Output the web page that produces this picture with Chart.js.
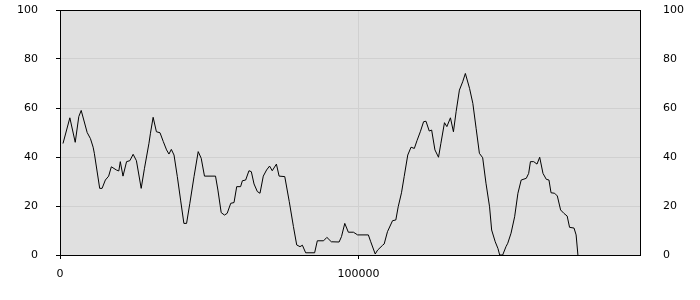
<!DOCTYPE html>
<html>
<head>
<meta charset="utf-8">
<script src="https://cdn.jsdelivr.net/npm/chart.js@4/dist/chart.umd.min.js"></script>
<style>
  html, body { margin: 0; padding: 0; background: #fff; }
</style>
</head>
<body>
<canvas id="lineChart" width="700" height="300"></canvas>
<script>
// sample positions along the x axis
const xs = [
  1000, 3300, 5100, 6300, 7100, 9100, 10200, 11100, 11500, 13300,
  14100, 15200, 16300, 17200, 18900, 19700, 20200, 21100, 22300, 23400,
  24500, 25600, 27200, 28300, 29800, 30300, 31200, 32300, 33500, 34600,
  35700, 36500, 37300, 38200, 39300, 40400, 41500, 42400, 43500, 44900,
  46300, 47300, 48400, 52100, 52900, 54000, 55100, 56000, 57200, 58300,
  59200, 60500, 61100, 62200, 63300, 64100, 65000, 66100, 67000, 68100,
  69200, 70200, 71100, 72500, 73400, 75300, 76800, 78200, 79300, 80400,
  81200, 82300, 85300, 86200, 88300, 89400, 90900, 93500, 94300, 95400,
  96600, 98300, 99700, 103300, 104100, 105600, 106400, 108100, 108600, 109700,
  111400, 112500, 113300, 114400, 115300, 116500, 117600, 118700, 119600, 120700,
  121800, 122600, 123700, 124500, 125600, 126800, 127600, 128800, 129600, 130800,
  131800, 132700, 133800, 134900, 135800, 137200, 138300, 139400, 140500, 141600,
  142700, 143900, 144600, 145800, 146700, 147300, 148300, 149400, 150000, 151100,
  152300, 153400, 154500, 156200, 157000, 157600, 158700, 159800, 160700, 161800,
  162900, 163800, 164500, 165700, 166600, 167700, 168800, 169900, 170700, 172200,
  172900, 173500
];

const ys = [
  45.5, 56, 46, 56.5, 59, 50, 47.5, 44, 41.5, 27.2,
  27.2, 30.6, 32.2, 36, 34.7, 34.3, 38.1, 32.2, 38.1, 38.5,
  41.1, 38.5, 27.2, 35.4, 45.6, 49.7, 56.2, 50.3, 49.9, 46.3,
  42.9, 41.2, 43.1, 40.8, 32, 22.4, 12.9, 12.9, 21.1, 32,
  42.2, 39.5, 32.2, 32.2, 26.5, 17.3, 16.3, 17, 21.1, 21.4,
  27.9, 27.9, 30.3, 30.6, 34.4, 34, 29, 25.9, 25.2, 32.2,
  34.7, 36.3, 34.4, 37.1, 32.2, 32, 21.8, 11.6, 4.1, 3.4,
  4, 0.9, 0.9, 5.8, 5.8, 7.2, 5.4, 5.3, 7.5, 12.9,
  9.3, 9.3, 8.2, 8.2, 5.4, 0.4, 2, 4, 4.5, 9.5,
  14, 14.3, 19.7, 25.4, 32, 40.8, 44, 43.5, 46.7, 50.3,
  54.4, 54.6, 50.6, 51, 42.9, 39.9, 45.6, 54, 52.4, 56,
  50.3, 58.5, 67.3, 70.7, 74.1, 68, 61.9, 51.7, 41.5, 39.7,
  29.3, 19.7, 10.2, 5.4, 2.7, 0, 0, 3.4, 4.8, 8.9,
  15.6, 25.2, 30.6, 31.3, 33.3, 38.1, 38.1, 37.1, 39.9, 33.3,
  30.9, 30.6, 25.4, 25.2, 24.1, 18.4, 17, 15.9, 11.3, 11,
  8.2, 0
];

const xTickValues = [0, 100000];
const yTickValues = [0, 20, 40, 60, 80, 100];
const xMax = 194300;

const labelFont = { family: "'DejaVu Sans', Verdana, sans-serif", size: 11 };

// grey plot background and black frame round the chart area
const plotFrame = {
  id: "plotFrame",
  beforeDraw(chart) {
    const { ctx, chartArea: a } = chart;
    ctx.save();
    ctx.fillStyle = "#e0e0e0";
    ctx.fillRect(a.left, a.top, a.width, a.height);
    ctx.restore();
  },
  afterDraw(chart) {
    const { ctx, chartArea: a } = chart;
    ctx.save();
    ctx.strokeStyle = "#000";
    ctx.lineWidth = 1;
    ctx.strokeRect(a.left + 0.5, a.top + 0.5, a.width, a.height);
    ctx.restore();
  }
};

function yAxis(position, padding) {
  return {
    type: "linear",
    position: position,
    min: 0,
    max: 100,
    afterBuildTicks: (scale) => { scale.ticks = yTickValues.map((v) => ({ value: v })); },
    afterFit: (scale) => {
      scale.width = 60;
      scale.paddingTop = 0;
      scale.paddingBottom = 0;
    },
    border: { display: false },
    grid: {
      display: position === "left",
      color: "#d0d0d0",
      tickColor: "#000",
      tickLength: 4
    },
    ticks: { color: "#000", font: labelFont, padding: padding }
  };
}

new Chart(document.getElementById("lineChart"), {
  type: "line",
  data: {
    datasets: [
      {
        data: xs.map((x, i) => ({ x: x, y: ys[i] })),
        borderColor: "#000",
        borderWidth: 1,
        pointRadius: 0,
        tension: 0,
        fill: false
      }
    ]
  },
  options: {
    responsive: false,
    animation: false,
    layout: { padding: { top: 10, left: 0, right: 0, bottom: 0 } },
    plugins: { legend: { display: false }, tooltip: { enabled: false } },
    scales: {
      x: {
        type: "linear",
        min: 0,
        max: xMax,
        afterBuildTicks: (scale) => { scale.ticks = xTickValues.map((v) => ({ value: v })); },
        afterFit: (scale) => {
          scale.height = 45;
          scale.paddingLeft = 0;
          scale.paddingRight = 0;
        },
        border: { display: false },
        grid: { color: "#d0d0d0", tickColor: "#000", tickLength: 4 },
        ticks: {
          color: "#000",
          font: labelFont,
          padding: 9,
          maxRotation: 0,
          callback: (value) => String(value)
        }
      },
      y: yAxis("left", 18),
      y2: yAxis("right", 19)
    }
  },
  plugins: [plotFrame]
});
</script>
</body>
</html>
